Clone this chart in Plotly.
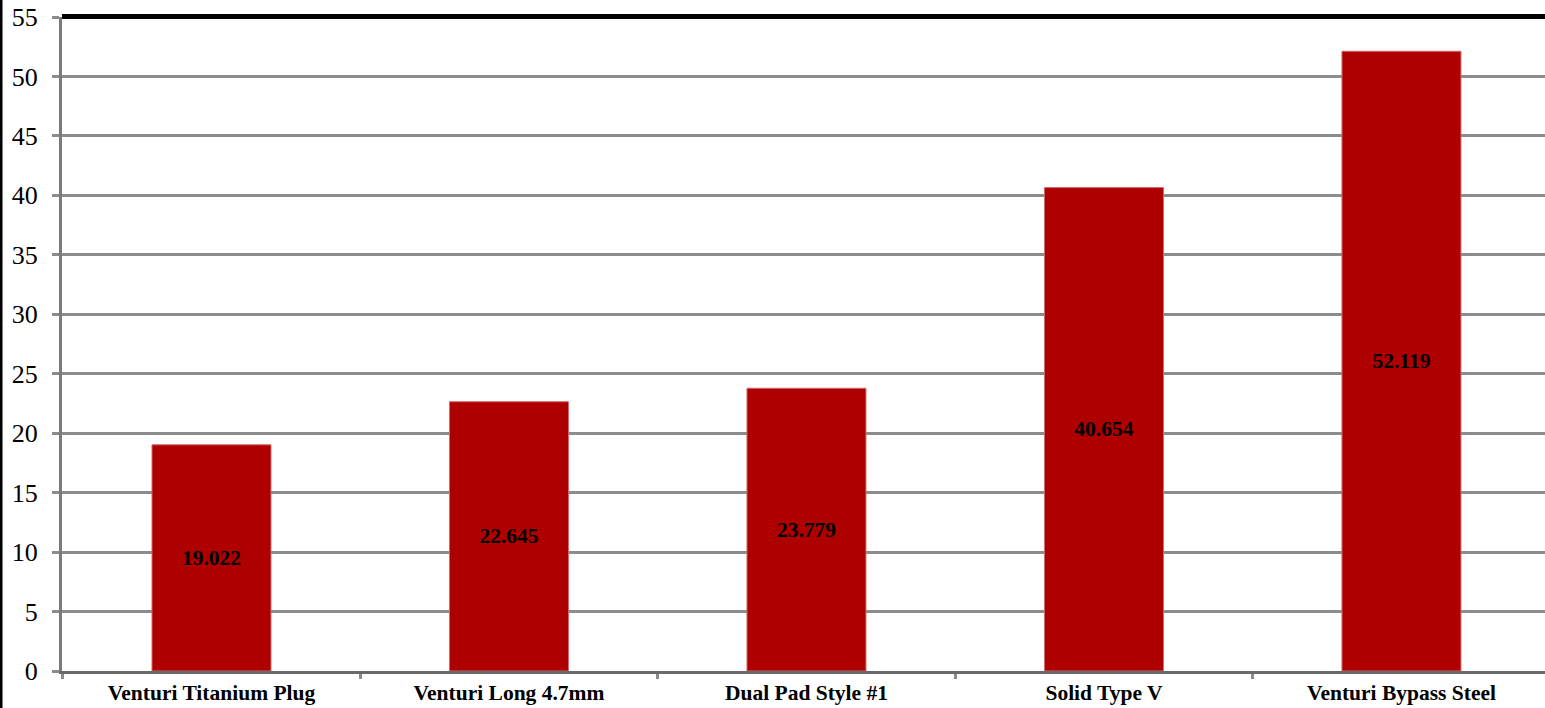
import plotly.graph_objects as go

categories = ["Venturi Titanium Plug", "Venturi Long 4.7mm", "Dual Pad Style #1",
              "Solid Type V", "Venturi Bypass Steel"]
values = [19.022, 22.645, 23.779, 40.654, 52.119]
y_ticks = [0, 5, 10, 15, 20, 25, 30, 35, 40, 45, 50, 55]

W, H = 1545, 708
ML, MR, MT, MB = 62, 0, 17, 37
PH = H - MT - MB

fig = go.Figure()
fig.add_trace(go.Bar(
    x=categories, y=values,
    marker=dict(color="#AE0000", line=dict(color="#d46a6a", width=1)),
    text=[f"{v:.3f}" for v in values],
    textposition="inside", insidetextanchor="middle",
    textangle=0, constraintext="none",
    textfont=dict(family="Liberation Serif", size=21.5, color="black", weight="bold"),
    hoverinfo="x+y",
))

fig.update_layout(
    width=W, height=H,
    margin=dict(l=ML, r=MR, t=MT, b=MB, pad=0),
    paper_bgcolor="white", plot_bgcolor="white",
    bargap=0.6, showlegend=False,
    xaxis=dict(
        type="category", range=[-0.5025, 4.4825],
        tickson="boundaries", ticks="outside", ticklen=5,
        tickwidth=3, tickcolor="#8c8c8c",
        showline=True, linecolor="#6a6a6a", linewidth=3,
        showgrid=False,
        tickfont=dict(family="Liberation Serif", size=21.5, color="black", weight="bold"),
    ),
    yaxis=dict(
        range=[0, 55], tickvals=y_ticks, ticks="outside", ticklen=7,
        tickwidth=3, tickcolor="#8c8c8c",
        showline=True, linecolor="#7a7a7a", linewidth=3,
        showgrid=True, gridcolor="#8c8c8c", gridwidth=3, zeroline=False,
        ticklabelstandoff=9,
        tickfont=dict(family="Liberation Serif", size=26, color="black"),
    ),
    shapes=[
        dict(type="line", xref="paper", yref="paper", x0=0, x1=1,
             y0=1 + 0.5 / PH, y1=1 + 0.5 / PH,
             line=dict(color="black", width=5)),
        dict(type="line", xref="paper", yref="paper",
             x0=-(ML - 1) / (W - ML - MR), x1=-(ML - 1) / (W - ML - MR),
             y0=-MB / PH, y1=1 + MT / PH,
             line=dict(color="black", width=3)),
    ],
)

fig.write_html("out.html")
